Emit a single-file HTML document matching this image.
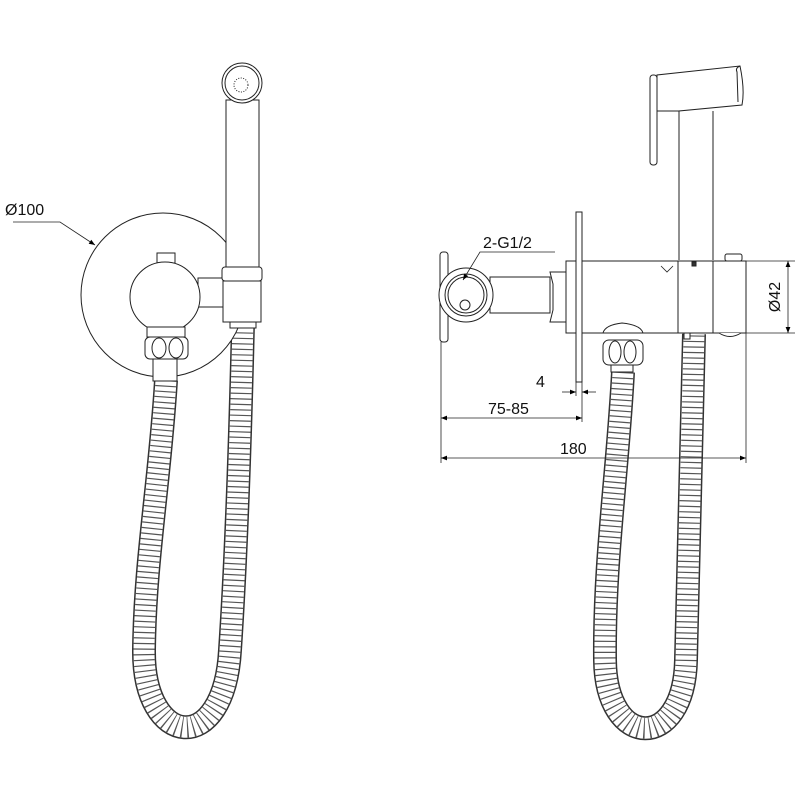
<!DOCTYPE html>
<html><head><meta charset="utf-8"><style>html,body{margin:0;padding:0;background:#fff}svg{display:block}</style></head>
<body>
<svg width="800" height="800" viewBox="0 0 800 800" xmlns="http://www.w3.org/2000/svg" font-family="Liberation Sans, sans-serif">
<defs>
<marker id="ar" viewBox="0 0 10 10" refX="10" refY="5" markerWidth="10" markerHeight="6" orient="auto-start-reverse" markerUnits="userSpaceOnUse"><path d="M0,1 L10,5 L0,9 z" fill="#000"/></marker>
</defs>
<g fill="none" stroke="#222" stroke-width="1">
<!-- hoses -->
<g>
<path d="M166 380 C160 480 145 560 144 650 C143 748 224 758 230 650 C236 560 240 450 243 322" stroke="#333" stroke-width="24"/>
<path d="M166 380 C160 480 145 560 144 650 C143 748 224 758 230 650 C236 560 240 450 243 322" stroke="#fff" stroke-width="21"/>
<path d="M166 380 C160 480 145 560 144 650 C143 748 224 758 230 650 C236 560 240 450 243 322" stroke="#555" stroke-width="21" stroke-dasharray="1.2 4.3"/>
</g>
<g>
<path d="M623 372 C618 470 604 560 605 660 C606 750 684 752 686 660 C688 560 692 450 694 334" stroke="#333" stroke-width="24"/>
<path d="M623 372 C618 470 604 560 605 660 C606 750 684 752 686 660 C688 560 692 450 694 334" stroke="#fff" stroke-width="21"/>
<path d="M623 372 C618 470 604 560 605 660 C606 750 684 752 686 660 C688 560 692 450 694 334" stroke="#555" stroke-width="21" stroke-dasharray="1.2 4.3"/>
</g>

<!-- LEFT VIEW -->
<circle cx="163" cy="295" r="82" fill="#fff"/>
<rect x="226" y="100" width="33" height="167" fill="#fff"/>
<circle cx="242" cy="83" r="20" fill="#fff"/>
<circle cx="242" cy="83" r="17"/>
<circle cx="241" cy="85" r="7" stroke-dasharray="1 1.5"/>
<rect x="198" y="278" width="26" height="29" fill="#fff"/>
<rect x="222" y="267" width="40" height="14" rx="3" fill="#fff"/>
<rect x="223" y="281" width="38" height="41" fill="#fff"/>
<rect x="230" y="322" width="26" height="6" fill="#fff"/>
<rect x="157" y="253" width="18" height="10" fill="#fff"/>
<circle cx="165" cy="297" r="35" fill="#fff"/>
<rect x="147" y="327" width="38" height="10" fill="#fff"/>
<rect x="145" y="337" width="43" height="22" rx="5" fill="#fff"/>
<ellipse cx="159" cy="348" rx="7" ry="10"/>
<ellipse cx="176" cy="348" rx="7" ry="10"/>
<rect x="153" y="359" width="24" height="22" fill="#fff"/>
<polyline points="13,222 60,222 95,245" stroke-width="0.8" marker-end="url(#ar)"/>

<!-- RIGHT VIEW -->
<path d="M679 260 L679 111 L742 105 Q745 90 740 66 L657 75 L657 111 L679 111" fill="#fff"/>
<line x1="713" y1="111" x2="713" y2="260"/>
<path d="M740 66 Q735 68 737 72 L738 102" />
<rect x="650" y="75" width="7" height="90" rx="3" fill="#fff"/>
<rect x="566" y="261" width="180" height="72" fill="#fff"/>
<line x1="678" y1="261" x2="678" y2="333"/>
<line x1="713" y1="261" x2="713" y2="333"/>
<rect x="725" y="254" width="17" height="7" rx="2" fill="#fff"/>
<path d="M661 266 L667 272 L673 266" stroke-width="0.8"/>
<rect x="692" y="262" width="4" height="4" fill="#333"/>
<path d="M719 333 Q730 340 741 333" fill="#fff"/>
<rect x="576" y="212" width="6" height="170" fill="#fff"/>
<rect x="490" y="277" width="60" height="36" fill="#fff"/>
<path d="M550 272 L566 272 L566 322 L550 322 L553 310 L553 284 Z" fill="#fff"/>
<rect x="440" y="252" width="8" height="90" rx="3" fill="#fff"/>
<circle cx="466" cy="295" r="27" fill="#fff"/>
<circle cx="466" cy="295" r="21"/>
<circle cx="466" cy="295" r="18"/>
<circle cx="465" cy="305" r="5"/>
<path d="M603 333 Q605 325 622 323 Q641 325 643 333 Z" fill="#fff"/>
<rect x="603" y="340" width="40" height="25" rx="6" fill="#fff"/>
<ellipse cx="615" cy="352" rx="6" ry="11"/>
<ellipse cx="630" cy="352" rx="6" ry="11"/>
<rect x="611" y="365" width="22" height="7" fill="#fff"/>
<rect x="684" y="333" width="6" height="6" fill="#fff"/>

<g stroke-width="0.8">
<polyline points="555,252 480,252 463,280" marker-end="url(#ar)"/>
<line x1="746" y1="261" x2="795" y2="261"/>
<line x1="746" y1="333" x2="795" y2="333"/>
<line x1="788" y1="261" x2="788" y2="333" marker-start="url(#ar)" marker-end="url(#ar)"/>
<line x1="441" y1="342" x2="441" y2="463"/>
<line x1="582" y1="382" x2="582" y2="422"/>
<line x1="576" y1="382" x2="576" y2="396"/>
<line x1="746" y1="333" x2="746" y2="463"/>
<line x1="562" y1="392" x2="576" y2="392" marker-end="url(#ar)"/>
<line x1="596" y1="392" x2="582" y2="392" marker-end="url(#ar)"/>
<line x1="441" y1="418" x2="582" y2="418" marker-start="url(#ar)" marker-end="url(#ar)"/>
<line x1="441" y1="458" x2="746" y2="458" marker-start="url(#ar)" marker-end="url(#ar)"/>
</g>
</g>
<g fill="#111" font-size="16">
<text x="5" y="215">Ø100</text>
<text x="483" y="248">2-G1/2</text>
<text x="536" y="387">4</text>
<text x="488" y="414">75-85</text>
<text x="560" y="454">180</text>
<text transform="translate(780,297) rotate(-90)" text-anchor="middle">Ø42</text>
</g>
</svg>
</body></html>
